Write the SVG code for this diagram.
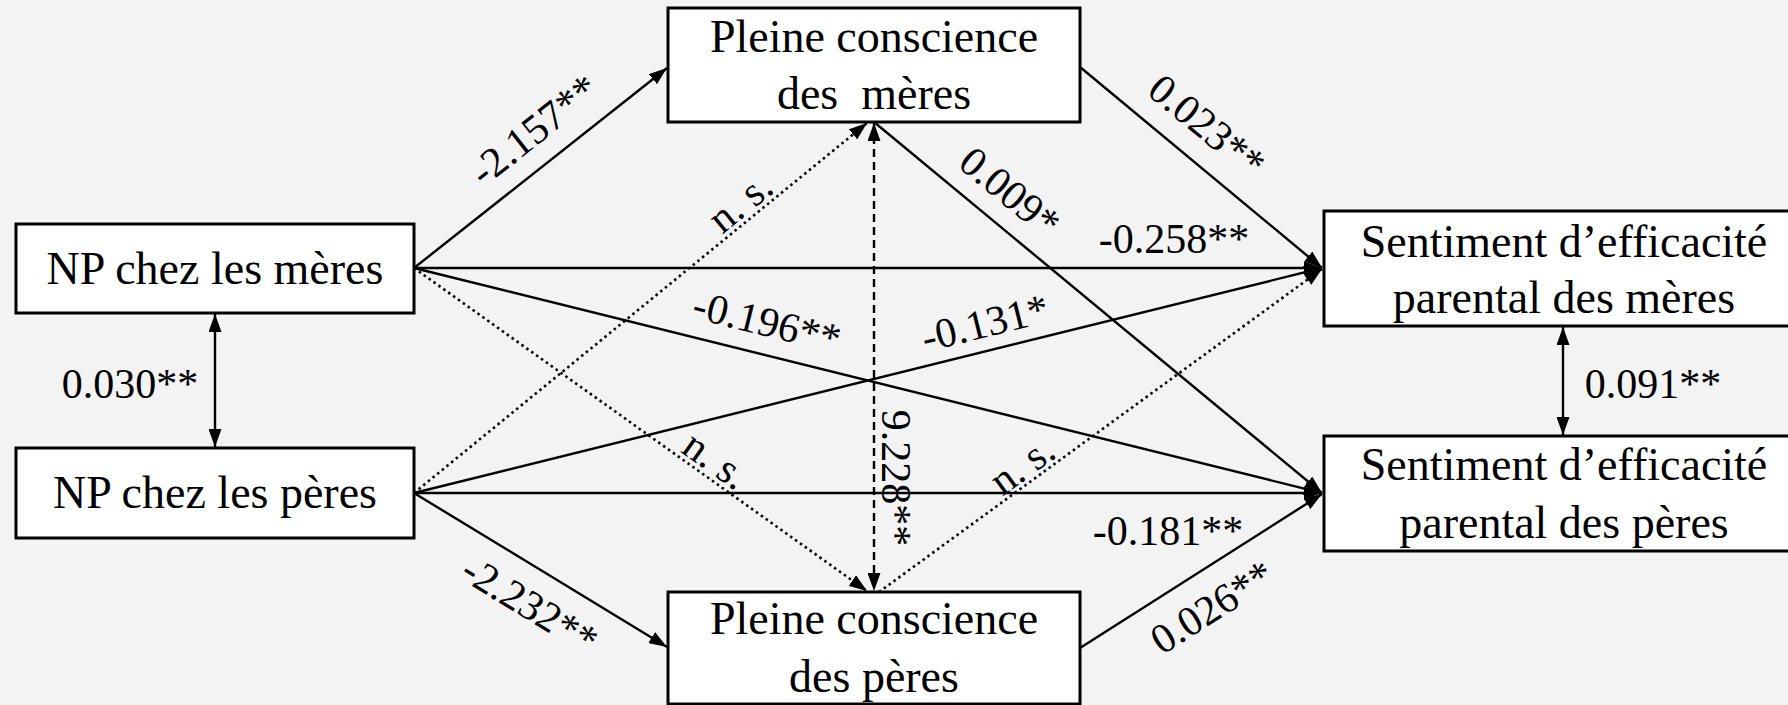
<svg xmlns="http://www.w3.org/2000/svg" width="1788" height="705" viewBox="0 0 1788 705">
<style>
.bg{fill:#f3f3f3}
.box{fill:#ffffff;stroke:#000;stroke-width:3}
.nt{font-family:"Liberation Serif","Times New Roman",serif;font-size:46px;fill:#000;text-anchor:middle}
.lb{font-family:"Liberation Serif","Times New Roman",serif;font-size:42px;fill:#000;text-anchor:middle}
.c{stroke:#000;stroke-width:2.4;fill:none}
.dot{stroke-dasharray:2.5 3.5;stroke-width:2.6}
.dash{stroke-dasharray:8 5}
.a{marker-end:url(#ah)}
.b{marker-start:url(#ah);marker-end:url(#ah)}
</style>
<defs>
<marker id="ah" viewBox="0 0 18 13" refX="18" refY="6.5" markerWidth="18" markerHeight="13" markerUnits="userSpaceOnUse" orient="auto-start-reverse">
<path d="M0,0 L18,6.5 L0,13 z" fill="#000"/>
</marker>
</defs>
<rect class="bg" x="0" y="0" width="1788" height="705"/>
<g id="connectors">
<path class="c a" d="M414,268 L667,68"/>
<path class="c a" d="M414,268 L1322,268"/>
<path class="c a" d="M414,268 L1322,493"/>
<path class="c dot a" d="M414,268 L867,591"/>
<path class="c dot a" d="M414,493 L867,123"/>
<path class="c a" d="M414,493 L1322,268"/>
<path class="c a" d="M414,493 L1322,493"/>
<path class="c a" d="M414,493 L667,647"/>
<path class="c a" d="M1080,67 L1322,268"/>
<path class="c a" d="M874,122 L1322,493"/>
<path class="c dash b" d="M874,123 L874,591"/>
<path class="c dot a" d="M879,592 L1322,269"/>
<path class="c a" d="M1080,648 L1322,494"/>
<path class="c b" d="M215,314 L215,447"/>
<path class="c b" d="M1563,327 L1563,435"/>
<text class="lb" transform="translate(534,130) rotate(-38.4)" x="0" y="14">-2.157**</text>
<text class="lb" transform="translate(530,605) rotate(31.5)" x="0" y="14">-2.232**</text>
<text class="lb" transform="translate(740,202) rotate(-39.3)" x="0" y="14">n. s.</text>
<text class="lb" transform="translate(716,460) rotate(35.5)" x="0" y="14">n. s.</text>
<text class="lb" transform="translate(767,322) rotate(13.9)" x="0" y="14">-0.196**</text>
<text class="lb" transform="translate(985,323) rotate(-13.9)" x="0" y="14">-0.131*</text>
<text class="lb" transform="translate(896,478) rotate(90)" x="0" y="14">9.228**</text>
<text class="lb" transform="translate(1022,465) rotate(-36)" x="0" y="14">n. s.</text>
<text class="lb" transform="translate(1010,192) rotate(39.5)" x="0" y="14">0.009*</text>
<text class="lb" transform="translate(1207,126) rotate(39.5)" x="0" y="14">0.023**</text>
<text class="lb" transform="translate(1212,607) rotate(-32.4)" x="0" y="14">0.026**</text>
<text class="lb" x="1174" y="253">-0.258**</text>
<text class="lb" x="1168" y="545">-0.181**</text>
<text class="lb" x="130" y="398">0.030**</text>
<text class="lb" x="1653" y="398">0.091**</text>
</g>
<g id="np-meres">
<rect class="box" x="16" y="224" width="398" height="89"/>
<text class="nt" x="215" y="284">NP chez les mères</text>
</g>
<g id="np-peres">
<rect class="box" x="16" y="448" width="398" height="90"/>
<text class="nt" x="215" y="508">NP chez les pères</text>
</g>
<g id="pc-meres">
<rect class="box" x="668" y="8" width="412" height="114"/>
<text class="nt" x="874" y="52">Pleine conscience</text>
<text class="nt" x="874" y="109">des&#160; mères</text>
</g>
<g id="pc-peres">
<rect class="box" x="668" y="592" width="412" height="112"/>
<text class="nt" x="874" y="634">Pleine conscience</text>
<text class="nt" x="874" y="692">des pères</text>
</g>
<g id="sep-meres">
<rect class="box" x="1324" y="211" width="480" height="115"/>
<text class="nt" x="1564" y="257">Sentiment d’efficacité</text>
<text class="nt" x="1564" y="313">parental des mères</text>
</g>
<g id="sep-peres">
<rect class="box" x="1324" y="436" width="480" height="115"/>
<text class="nt" x="1564" y="480">Sentiment d’efficacité</text>
<text class="nt" x="1564" y="538">parental des pères</text>
</g>
</svg>
